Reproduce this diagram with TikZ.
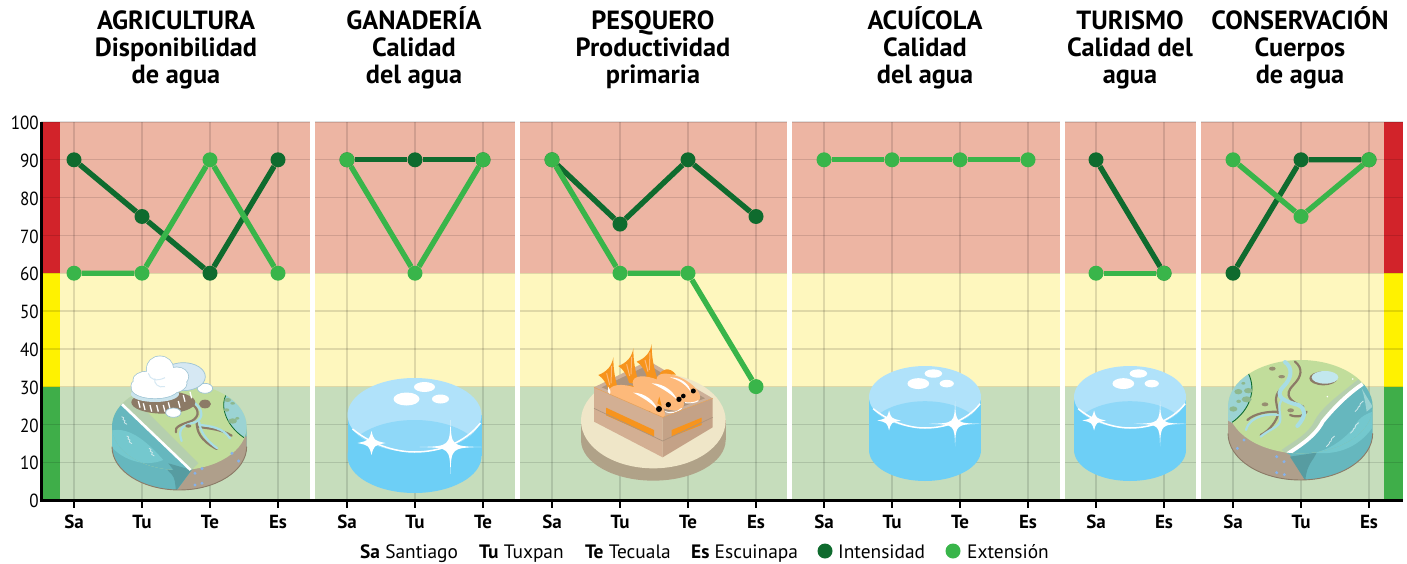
\documentclass[tikz,border=0pt]{standalone}
\usepackage{fontspec}
\setmainfont{PT Sans}
\lineskiplimit=-30pt
\definecolor{zred}{HTML}{EDB5A3}
\definecolor{zyel}{HTML}{FEF7BE}
\definecolor{zgre}{HTML}{C6DDBC}
\definecolor{sred}{HTML}{D2232A}
\definecolor{syel}{HTML}{FFF200}
\definecolor{sgre}{HTML}{3FAE49}
\definecolor{dkg}{HTML}{0F6B2E}
\definecolor{ltg}{HTML}{39B54A}
\definecolor{cylside}{HTML}{6DCFF6}
\definecolor{cyltop}{HTML}{B0E2FA}
\definecolor{cyllens}{HTML}{8FD8F8}
\definecolor{landg}{HTML}{C1DD9B}
\definecolor{soil}{HTML}{AF9F8B}
\definecolor{wat}{HTML}{66B7BE}
\definecolor{watl}{HTML}{74C8CE}
\definecolor{band}{HTML}{B5CFAE}
\definecolor{riv}{HTML}{A8DDE5}
\definecolor{rivc}{HTML}{8C7A66}
\definecolor{lag}{HTML}{9BD3D3}
\definecolor{lagd}{HTML}{8DB88E}
\definecolor{orf}{HTML}{F7941D}
\definecolor{orb}{HTML}{FDB97A}
\definecolor{crl}{HTML}{D3AF93}
\definecolor{crr}{HTML}{C4A287}
\definecolor{cri}{HTML}{AD947D}
\definecolor{plate}{HTML}{EFE6C8}
\definecolor{plates}{HTML}{B0A288}
\definecolor{cloudl}{HTML}{9DC3D4}
\definecolor{cloudb}{HTML}{D6E8F3}
\tikzset{
 gridline/.style={black,opacity=.12,line width=1.4pt},
 axisline/.style={black,line width=3pt},
 tickline/.style={black,line width=2.6pt},
 title/.style={font=\fontsize{26.3}{27}\selectfont\bfseries,align=center,anchor=north,inner sep=0pt},
 ylab/.style={font=\fontsize{19}{19}\selectfont,anchor=east,inner sep=0pt,xscale=.9},
 xlab/.style={font=\fontsize{19}{18}\selectfont\bfseries,inner sep=0pt,anchor=base},
 leg/.style={font=\fontsize{19.4}{18}\selectfont,anchor=base west,inner sep=0pt},
 dotI/.style={circle,fill=dkg,inner sep=0pt,minimum size=15pt},
 dotE/.style={circle,fill=ltg,inner sep=0pt,minimum size=15pt},
 lineI/.style={dkg,line width=5.4pt},
 lineE/.style={ltg,line width=5.4pt},
 rivB/.style={rivc,line width=2.2pt,line cap=round},
 rivW/.style={riv,line width=2.2pt,line cap=round},
}
\newcommand{\sparkle}[5]{% x y rx ry bulge
 \fill[white] (#1-#3,#2) .. controls (#1-#5,#2-#5) and (#1-#5,#2-#5) .. (#1,#2-#4)
   .. controls (#1+#5,#2-#5) and (#1+#5,#2-#5) .. (#1+#3,#2)
   .. controls (#1+#5,#2+#5) and (#1+#5,#2+#5) .. (#1,#2+#4)
   .. controls (#1-#5,#2+#5) and (#1-#5,#2+#5) .. cycle;}
\newcommand{\ttl}[3]{#1\rule{0pt}{25pt}\\#2\\#3}
% cx, top-centre y, rx, ry, side height
\newcommand{\bluecyl}[5]{%
 \fill[cylside] (#1-#3,#2) rectangle (#1+#3,#2+#5);
 \fill[cylside] (#1,#2+#5) ellipse [x radius=#3,y radius=#4];
 \begin{scope}[shift={(#1,#2)},xscale=#3/67,yscale=#4/37]
  \fill[cyltop] (0,0) ellipse [x radius=67,y radius=37];
  \begin{scope}
   \clip (0,0) ellipse [x radius=67,y radius=37];
   \fill[cyllens] (0,42) ellipse [x radius=68,y radius=37];
  \end{scope}
  \draw[white,line width=1.5pt] (-62,14) .. controls (-40,32) and (-15,37) .. (0,37) .. controls (25,37) and (50,28) .. (66,8);
  \sparkle{-43}{28}{14}{12}{2.5}
  \sparkle{36}{32}{31}{27}{.8}
  \fill[white] (-8,-16) ellipse [x radius=13,y radius=6.5];
  \fill[white] (10,-28) ellipse [x radius=10.5,y radius=5];
  \fill[white] (26,-16) ellipse [x radius=8.5,y radius=4.5];
 \end{scope}}
\newcommand{\fishtail}{%
 \fill[orf] (245,12) .. controls (240,40) and (225,55) .. (200,65) .. controls (215,75) and (226,92) .. (232,115) -- (264,122) .. controls (250,80) and (245,50) .. (245,12) -- cycle;
 \draw[orb,line width=1pt] (240,38) -- (238,90) (225,60) -- (234,95);}
\begin{document}
\begin{tikzpicture}[x=1pt,y=-1pt]
\useasboundingbox (0,0) rectangle (1407,564);
% bands
\fill[zred] (41,122) rectangle (1403,273);
\fill[zyel] (41,273) rectangle (1403,387);
\fill[zgre] (41,387) rectangle (1403,500);
\fill[sred] (41,122) rectangle (60,273);
\fill[syel] (41,273) rectangle (60,387);
\fill[sgre] (41,387) rectangle (60,500);
\fill[sred] (1384,122) rectangle (1403,273);
\fill[syel] (1384,273) rectangle (1403,387);
\fill[sgre] (1384,387) rectangle (1403,500);
% grid
\foreach \v in {10,20,...,100}
 \draw[gridline] (41,{500-3.78*\v}) -- (1403,{500-3.78*\v});
\foreach \x in {74,142,210,278,347,415,483,552,620,688,756,824,892,960,1028,1096,1164,1233,1301,1369}
 \draw[gridline] (\x,122) -- (\x,500);
% separators
\foreach \a/\b in {310/315,515/520,787/792,1060/1065,1196/1201}
 \fill[white] (\a,120) rectangle (\b,499);
% axes
\draw[axisline] (41,122) -- (41,501.5);
\draw[axisline] (39.5,500) -- (1403,500);
\foreach \x in {74,142,210,278,347,415,483,552,620,688,756,824,892,960,1028,1096,1164,1233,1301,1369}
 \draw[tickline] (\x,500) -- (\x,508);
% y labels
\foreach \v in {0,10,...,100}
 \node[ylab] (y\v) at (38.9,{501-3.78*\v}) {\v};
% x labels
\foreach \n/\x/\t in {a/74/Sa,b/142/Tu,c/210/Te,d/278/Es,e/347/Sa,f/415/Tu,g/483/Te,h/552/Sa,i/620/Tu,j/688/Te,k/756/Es,l/824/Sa,m/892/Tu,n/960/Te,o/1028/Es,p/1096/Sa,q/1164/Es,r/1233/Sa,s/1301/Tu,t/1369/Es}
 \node[xlab] (x\n) at (\x,528) {\t};
% titles
\node[title] (t1) at (176,4.5) {\ttl{AGRICULTURA}{Disponibilidad}{de agua}};
\node[title] (t2) at (414,4.5) {\ttl{GANADERÍA}{Calidad}{del agua}};
\node[title] (t3) at (653,4.5) {\ttl{PESQUERO}{Productividad}{primaria}};
\node[title] (t4) at (925,4.5) {\ttl{ACUÍCOLA}{Calidad}{del agua}};
\node[title] (t5) at (1130,4.5) {\ttl{TURISMO}{Calidad del}{agua}};
\node[title] (t6) at (1300,4.5) {\ttl{CONSERVACIÓN}{Cuerpos}{de agua}};
% legend
\node[leg] (l1) at (360,558) {\textbf{Sa} Santiago};
\node[leg] (l2) at (479,558) {\textbf{Tu} Tuxpan};
\node[leg] (l3) at (585,558) {\textbf{Te} Tecuala};
\node[leg] (l4) at (691,558) {\textbf{Es} Escuinapa};
\node[dotI] (ld1) at (825,551) {};
\node[leg] (l5) at (838,558) {Intensidad};
\node[dotE] (ld2) at (953,551) {};
\node[leg] (l6) at (967,558) {Extensión};

% ---------- illustrations ----------
% Agriculture island (coordinates of a 3x crop with origin 100,345)
\begin{scope}[shift={(100,345)},x=.3333pt,y=-.3333pt]
 \fill[wat] (36,245) -- (36,305) arc [start angle=180,end angle=0,x radius=202,y radius=130] -- (440,245) -- cycle;
 \begin{scope}
  \clip (36,245) -- (36,305) arc [start angle=180,end angle=0,x radius=202,y radius=130] -- (440,245) -- cycle;
  \fill[soil] (275,375) -- (228,440) -- (445,440) -- (445,270) -- cycle;
  \fill[watl] (30,258) .. controls (90,240) and (150,300) .. (190,345) .. controls (130,370) and (60,340) .. (30,300) -- cycle;
  \fill[wat!85!black] (215,388) .. controls (195,370) and (195,362) .. (205,355) -- (275,375) -- (228,438) .. controls (225,410) and (225,400) .. (215,388) -- cycle;
 \end{scope}
 \draw[rivc,line width=.9pt] (36,305) arc [start angle=180,end angle=0,x radius=202,y radius=130];
 \fill[landg] (238,245) ellipse [x radius=202,y radius=130];
 \begin{scope}
  \clip (238,245) ellipse [x radius=202,y radius=130];
  \fill[wat] (0,140) -- (65,175) -- (275,375) -- (0,400) -- cycle;
  \fill[watl] (30,258) .. controls (90,240) and (150,300) .. (190,345) .. controls (130,370) and (60,340) .. (30,300) -- cycle;
  \fill[wat!85!black] (205,355) -- (275,375) -- (240,400) -- cycle;
  \fill[band] (90,150) -- (295,355) -- (275,375) -- (65,175) -- cycle;
  \fill[lag] (385,140) .. controls (355,175) and (375,240) .. (432,278) -- (460,200) -- (420,130) -- cycle;
  \draw[dkg,line width=.8pt] (385,140) .. controls (355,175) and (375,240) .. (432,278);
  \draw[dkg,line width=.8pt] (95,148) .. controls (150,118) and (320,100) .. (385,140);
  \fill[lagd] (383,165) ellipse [x radius=10,y radius=6] (398,175) ellipse [x radius=7,y radius=4] (380,195) ellipse [x radius=8,y radius=5] (398,228) ellipse [x radius=13,y radius=8] (412,220) ellipse [x radius=6,y radius=4];
 \end{scope}
 \draw[white,line width=2.6pt] (66,178) -- (272,375);
 % river
 \draw[rivB] (268,172) .. controls (300,190) and (300,215) .. (275,228) .. controls (245,238) and (222,245) .. (228,262);
 \draw[rivB] (290,228) .. controls (290,260) and (300,285) .. (350,312);
 \draw[rivB] (292,245) .. controls (315,250) and (360,250) .. (395,272);
 \draw[rivW] (282,172) .. controls (310,195) and (312,220) .. (285,232) .. controls (255,240) and (230,245) .. (245,288);
 \draw[rivW] (298,232) .. controls (300,255) and (315,285) .. (352,310);
 \draw[rivW] (300,240) .. controls (330,243) and (370,248) .. (390,280);
 \fill[rivc] (315,177) ellipse [x radius=18,y radius=13] (265,243) ellipse [x radius=9,y radius=5];
 % white wave marks
 \foreach \a/\b in {75/230,90/288,157/325}
  \draw[white!70!wat,line width=.8pt] (\a-10,\b-15) -- (\a-4,\b-12) -- (\a-6,\b-6) -- (\a,\b-3) -- (\a-2,\b+3) -- (\a+6,\b+8);
 \fill[riv!80!blue] (285,385) circle [radius=5] (306,371) circle [radius=5] (285,420) circle [radius=5] (306,415) circle [radius=5] (396,325) circle [radius=5] (416,348) circle [radius=5];
 % ground below the cloud
 \fill[rivc] (190,172) ellipse [x radius=96,y radius=34];
 \foreach \a/\b in {115/178,130/185,150/190,170/190,190/190,205/182,235/178,250/160,270/150}
  \draw[white,line width=1.3pt] (\a,\b-10) -- (\a+5,\b+10);
 % cloud
 \fill[white,draw=cloudl,line width=.7pt] (220,203) ellipse [x radius=23,y radius=14];
 \fill[white,draw=cloudl,line width=.7pt] (315,130) ellipse [x radius=23,y radius=15];
 \fill[cloudb,draw=cloudl,line width=.7pt] (250,95) ellipse [x radius=66,y radius=42];
 \fill[cloudb!80!lag] (165,147) ellipse [x radius=72,y radius=24];
 \foreach \a/\b/\c/\d in {180/72/40/38,230/95/35/28,140/105/40/25,165/130/70/30,215/115/45/28,122/122/28/20}
  \draw[cloudl,line width=1.4pt] (\a,\b) ellipse [x radius=\c,y radius=\d];
 \foreach \a/\b/\c/\d in {180/72/40/38,230/95/35/28,140/105/40/25,165/130/70/30,215/115/45/28,122/122/28/20}
  \fill[white] (\a,\b) ellipse [x radius=\c,y radius=\d];
 \draw[cloudb,line width=1pt] (145,85) .. controls (150,105) and (170,110) .. (195,98) (165,100) .. controls (160,115) and (175,130) .. (195,125);
\end{scope}

% Conservation island (3x crop with origin 1190,340)
\begin{scope}[shift={(1190,340)},x=.3333pt,y=-.3333pt]
 \fill[wat] (114,200) -- (114,280) arc [start angle=180,end angle=0,x radius=217,y radius=140] -- (548,200) -- cycle;
 \begin{scope}
  \clip (114,200) -- (114,280) arc [start angle=180,end angle=0,x radius=217,y radius=140] -- (548,200) -- cycle;
  \fill[lag] (110,190) rectangle (135,250);
  \fill[soil] (110,240) -- (300,345) -- (348,425) -- (110,425) -- cycle;
  \fill[watl] (548,215) .. controls (520,225) and (505,235) .. (490,265) .. controls (450,310) and (410,330) .. (375,338) .. controls (430,345) and (500,330) .. (548,262) -- cycle;
  \fill[wat!85!black] (300,350) -- (380,338) .. controls (372,360) and (350,370) .. (346,422) -- cycle;
 \end{scope}
 \draw[rivc,line width=.9pt] (114,280) arc [start angle=180,end angle=0,x radius=217,y radius=140];
 \fill[landg] (331,200) ellipse [x radius=217,y radius=140];
 \begin{scope}
  \clip (331,200) ellipse [x radius=217,y radius=140];
  \fill[lag] (175,100) .. controls (200,150) and (180,210) .. (125,248) -- (100,200) -- (130,100) -- cycle;
  \draw[dkg,line width=.9pt] (175,100) .. controls (200,150) and (180,210) .. (125,248);
  \fill[lagd] (175,152) ellipse [x radius=13,y radius=8] (145,155) ellipse [x radius=12,y radius=8] (170,178) ellipse [x radius=15,y radius=9] (130,207) ellipse [x radius=12,y radius=8] (146,184) ellipse [x radius=7,y radius=5] (160,130) ellipse [x radius=6,y radius=4];
  \fill[band] (505,118) .. controls (440,170) and (390,205) .. (370,250) .. controls (345,290) and (300,310) .. (275,330) -- (300,350) -- (530,150) -- cycle;
  \fill[wat] (525,130) .. controls (480,170) and (430,205) .. (400,250) .. controls (380,290) and (330,320) .. (300,345) -- (348,425) -- (560,425) -- (560,130) -- cycle;
  \fill[watl] (548,215) .. controls (520,225) and (505,235) .. (490,265) .. controls (450,310) and (410,330) .. (375,338) .. controls (430,345) and (500,330) .. (548,262) -- cycle;
  \fill[wat!85!black] (300,350) -- (380,338) .. controls (372,360) and (350,370) .. (346,422) -- cycle;
  \draw[white,line width=3.8pt] (518,132) .. controls (475,160) and (430,205) .. (398,245) .. controls (375,290) and (325,320) .. (292,342);
  \fill[lag] (515,145) -- (548,200) -- (530,215) .. controls (525,180) and (520,160) .. (515,145) -- cycle;
 \end{scope}
 % lake
 \fill[rivc] (400,115) ellipse [x radius=42,y radius=21];
 \fill[riv!70!white] (405,112) ellipse [x radius=40,y radius=19];
 % rivers
 \draw[rivB] (315,65) .. controls (340,85) and (335,110) .. (310,135) .. controls (280,165) and (300,185) .. (340,200);
 \draw[rivB] (270,150) .. controls (250,170) and (260,195) .. (265,215) .. controls (265,240) and (235,275) .. (212,285);
 \draw[rivB] (262,215) .. controls (230,215) and (195,220) .. (172,240);
 \draw[rivB] (300,225) .. controls (325,235) and (345,225) .. (350,215);
 \draw[rivW,line width=4pt] (285,66) .. controls (310,85) and (305,115) .. (280,140) .. controls (250,170) and (285,185) .. (325,195) .. controls (345,205) and (352,225) .. (322,258);
 \draw[rivW] (275,180) .. controls (260,200) and (275,225) .. (270,245) .. controls (265,262) and (235,270) .. (212,290);
 \draw[rivW] (265,225) .. controls (240,220) and (180,225) .. (168,270);
 \fill[rivc!80!landg] (225,193) ellipse [x radius=10,y radius=6] (302,211) ellipse [x radius=10,y radius=6] (275,110) ellipse [x radius=10,y radius=5] (247,86) ellipse [x radius=10,y radius=6];
 \foreach \a/\b in {422/302,494/262,508/197}
  \draw[white!70!wat,line width=.8pt] (\a-13,\b+18) -- (\a-5,\b+10) -- (\a-3,\b+4) -- (\a+1,\b+2) -- (\a+3,\b-6) -- (\a+12,\b-14);
 \fill[riv!80!blue] (162,300) circle [radius=5] (142,325) circle [radius=5] (260,350) circle [radius=5] (282,365) circle [radius=5] (260,398) circle [radius=5] (283,404) circle [radius=5];
 \fill[white] (412,170) circle [radius=2.5] (488,117) circle [radius=2.5];
\end{scope}

% Blue cylinders
\bluecyl{414.5}{415}{67}{37}{41}
\bluecyl{925}{397}{56}{31}{53}
\bluecyl{1130}{397}{56}{31}{53}

% Fish crate (3x crop with origin 570,340)
\begin{scope}[shift={(570,340)},x=.3333pt,y=-.3333pt]
 \fill[plates] (250,300) ellipse [x radius=217,y radius=122];
 \fill[plates] (33,240) rectangle (467,300);
 \fill[plate] (250,242) ellipse [x radius=217,y radius=143];
 \fill[crr!85!white] (72,142) -- (235,62) -- (428,175) -- (278,232) -- cycle;
 \fill[cri] (95,142) -- (235,75) -- (405,175) -- (278,222) -- cycle;
 % tails
 \fishtail
 \begin{scope}[shift={(-55,13)}]\fishtail\end{scope}
 \begin{scope}[shift={(-115,40)}]\fishtail\end{scope}
 % fins
 \fill[orf] (268,105) .. controls (275,85) and (300,80) .. (318,104) -- cycle;
 \fill[orf] (215,125) .. controls (222,105) and (250,95) .. (272,125) -- cycle;
 \fill[orf] (155,155) .. controls (162,135) and (190,125) .. (212,155) -- cycle;
 % bodies
 \fill[orb,rotate around={-28:(325,145)}] (325,145) ellipse [x radius=72,y radius=32];
 \fill[orb,rotate around={-28:(265,160)}] (265,160) ellipse [x radius=85,y radius=36];
 \fill[orb,rotate around={-26:(200,190)}] (200,190) ellipse [x radius=92,y radius=42];
 % streaks
 \fill[white] (300,112) .. controls (335,112) and (360,135) .. (362,155) .. controls (345,130) and (325,120) .. (300,112) -- cycle;
 \fill[white] (245,130) .. controls (285,130) and (315,160) .. (320,178) .. controls (295,155) and (270,142) .. (245,130) -- cycle;
 \fill[white] (190,158) .. controls (225,158) and (255,185) .. (262,208) .. controls (240,185) and (215,172) .. (190,158) -- cycle;
 \fill[white] (115,140) .. controls (120,150) and (125,158) .. (120,165) .. controls (112,155) and (112,150) .. (115,140) -- cycle;
 \draw[white,line width=1pt] (345,188) .. controls (360,190) and (375,188) .. (385,182) (285,215) .. controls (305,222) and (320,218) .. (335,205);
 \fill[orf] (268,170) -- (275,198) -- (262,190) -- cycle;
 % eyes
 \fill[black] (267,207) circle [radius=9] (295,194) circle [radius=8] (327,178) circle [radius=8] (340,168) circle [radius=7] (370,153) circle [radius=7.5] (235,220) circle [radius=7];
 % front
 \fill[crl] (72,142) -- (278,232) -- (278,352) -- (72,245) -- cycle;
 \fill[crr] (278,232) -- (428,175) -- (428,262) -- (278,352) -- cycle;
 \fill[orf] (108,203) -- (252,270) -- (252,290) -- (108,226) -- cycle;
 \fill[orf] (305,270) -- (395,233) -- (395,255) -- (305,290) -- cycle;
 \draw[cri,line width=.7pt] (72,205) -- (278,303) -- (428,232);
 \draw[orf!50!crl,line width=.5pt] (72,142) -- (278,232) -- (428,175);
\end{scope}

% ---------- data ----------
\foreach \n/\x/\v in {a/74/90,b/142/75,c/210/60,d/278/90,e/347/90,f/415/90,g/483/90,h/552/90,i/620/73,j/688/90,k/756/75,p/1096/90,q/1164/60,r/1233/60,s/1301/90,t/1369/90}
 \node[dotI] (I\n) at (\x,{500-3.78*\v}) {};
\draw[lineI] (Ia) -- (Ib) -- (Ic) -- (Id);
\draw[lineI] (Ie) -- (If) -- (Ig);
\draw[lineI] (Ih) -- (Ii) -- (Ij) -- (Ik);
\draw[lineI] (Ip) -- (Iq);
\draw[lineI] (Ir) -- (Is) -- (It);
\foreach \n/\x/\v in {a/74/60,b/142/60,c/210/90,d/278/60,e/347/90,f/415/60,g/483/90,h/552/90,i/620/60,j/688/60,k/756/30,l/824/90,m/892/90,n/960/90,o/1028/90,p/1096/60,q/1164/60,r/1233/90,s/1301/75,t/1369/90}
 \node[dotE] (E\n) at (\x,{500-3.78*\v}) {};
\draw[lineE] (Ea) -- (Eb) -- (Ec) -- (Ed);
\draw[lineE] (Ee) -- (Ef) -- (Eg);
\draw[lineE] (Eh) -- (Ei) -- (Ej) -- (Ek);
\draw[lineE] (El) -- (Em) -- (En) -- (Eo);
\draw[lineE] (Ep) -- (Eq);
\draw[lineE] (Er) -- (Es) -- (Et);
\end{tikzpicture}
\end{document}
